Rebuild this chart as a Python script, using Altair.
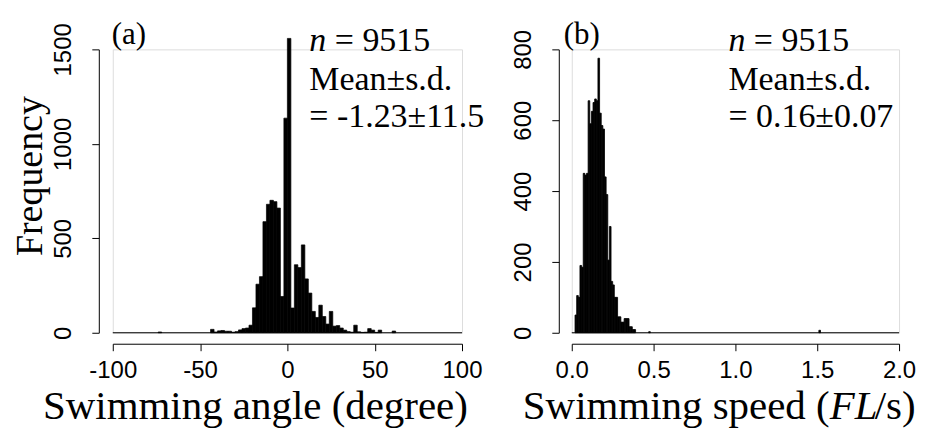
import altair as alt
import pandas as pd

# ---------------- data ----------------
# Panel (a): swimming angle, 2-degree bins (left edge, count)
angle_left = [-74, -44, -42, -40, -38, -36, -34, -32, -30, -28, -26, -24, -22,
              -20, -18, -16, -14, -12, -10, -8, -6, -4, -2, 0, 2, 4, 6, 8, 10,
              12, 14, 16, 18, 20, 22, 24, 26, 28, 30, 32, 34, 36, 38, 40, 42,
              44, 46, 48, 50, 52, 60]
angle_count = [4, 18, 4, 10, 12, 8, 8, 3, 6, 15, 22, 25, 40,
               132, 257, 297, 588, 680, 701, 694, 660, 192, 1136, 1558, 131, 360, 345, 465, 285,
               210, 113, 81, 146, 86, 46, 113, 35, 38, 25, 14, 6,
               3, 40, 5, 2, 3, 22, 14, 2, 14, 9]
angle_binw = 2

# Panel (b): swimming speed, 0.01 FL/s bins (left edge, count)
speed_left = [0.02, 0.03, 0.04, 0.05, 0.06, 0.07, 0.08, 0.09, 0.10, 0.11, 0.12,
              0.13, 0.14, 0.15, 0.16, 0.17, 0.18, 0.19, 0.20, 0.21, 0.22, 0.23,
              0.24, 0.25, 0.26, 0.27, 0.28, 0.29, 0.30, 0.31, 0.32, 0.33, 0.34,
              0.35, 0.36, 0.37, 0.38, 0.47, 1.51]
speed_count = [50, 105, 100, 190, 185, 450, 445, 450, 655, 590, 625,
               650, 660, 655, 775, 620, 585, 575, 440, 390, 205, 300,
               145, 135, 100, 100, 45, 45, 30, 30, 40, 40, 40,
               17, 17, 9, 9, 3, 7]
speed_binw = 0.01

angle_ticks = [-100, -50, 0, 50, 100]
angle_yticks = [0, 500, 1000, 1500]
speed_ticks = [0.0, 0.5, 1.0, 1.5, 2.0]
speed_yticks = [0, 200, 400, 600, 800]

SERIF = "Liberation Serif"
SANS = "Liberation Sans"
W, H = 350, 284
W2 = 328
TICKFS = 24
ANNFS = 34
TITLEFS = 41


def xaxis(values, fmt_expr):
    return alt.Axis(values=values, title=None, grid=False, offset=11,
                    domainColor="black", domainWidth=1, tickColor="black",
                    tickSize=7, tickWidth=1, labelFont=SANS, labelFontSize=TICKFS,
                    labelColor="black", labelPadding=8, labelFlush=False,
                    labelOverlap=False, labelExpr=fmt_expr)


def yaxis(values, offset):
    return alt.Axis(values=values, title=None, grid=False, offset=offset,
                    domainColor="black", domainWidth=1, tickColor="black",
                    tickSize=7, tickWidth=1, labelFont=SANS, labelFontSize=TICKFS,
                    labelColor="black", labelAngle=270, labelAlign="center",
                    labelBaseline="bottom", labelPadding=16, labelFlush=False,
                    labelOverlap=False, labelExpr="'' + datum.value")


def txt(s, x, y, size=ANNFS, style="normal", align="left", angle=0):
    kw = dict(font=SERIF, fontSize=size, fontStyle=style, align=align,
              baseline="middle", color="black")
    if angle:
        kw["angle"] = angle
    return alt.Chart(pd.DataFrame({"t": [s]})).mark_text(**kw).encode(
        x=alt.value(x), y=alt.value(y), text="t:N")


# ---------------- panel (a) ----------------
dfa = pd.DataFrame({"x0": angle_left, "c": angle_count})
dfa["x1"] = dfa["x0"] + angle_binw
dfa["z"] = 0
xa = alt.Scale(domain=[-100, 100], nice=False, zero=False)
ya = alt.Scale(domain=[0, 1500], nice=False)

bars_a = alt.Chart(dfa).mark_rect(color="black", stroke="black", strokeWidth=0.7).encode(
    x=alt.X("x0:Q", scale=xa, axis=xaxis(angle_ticks, "'' + datum.value")),
    x2="x1:Q",
    y=alt.Y("c:Q", scale=ya, axis=yaxis(angle_yticks, 14)),
    y2="z:Q",
)
base_a = alt.Chart(pd.DataFrame({"a": [-100], "b": [100], "z": [0]})).mark_rule(
    color="black", strokeWidth=1.2).encode(x=alt.X("a:Q", scale=xa), x2="b:Q",
                                           y=alt.Y("z:Q", scale=ya))
nx = 197
panel_a = alt.layer(
    bars_a, base_a,
    txt("(a)", -1, -14, size=31),
    txt("n", nx, -8, style="italic"),
    txt("= 9515", nx + 0.75 * ANNFS, -8),
    txt("Mean±s.d.", nx, 31),
    txt("= -1.23±11.5", nx, 68),
    txt("Frequency", -82, 127, size=38, align="center", angle=270),
    txt("Swimming angle (degree)", 143, 358, size=TITLEFS, align="center"),
).properties(width=W, height=H)

# ---------------- panel (b) ----------------
dfb = pd.DataFrame({"x0": speed_left, "c": speed_count})
dfb["x1"] = dfb["x0"] + speed_binw
dfb["z"] = 0
xb = alt.Scale(domain=[0, 2], nice=False, zero=False)
yb = alt.Scale(domain=[0, 800], nice=False)

bars_b = alt.Chart(dfb).mark_rect(color="black", stroke="black", strokeWidth=0.8).encode(
    x=alt.X("x0:Q", scale=xb, axis=xaxis(speed_ticks, "format(datum.value, '.1f')")),
    x2="x1:Q",
    y=alt.Y("c:Q", scale=yb, axis=yaxis(speed_yticks, 13)),
    y2="z:Q",
)
base_b = alt.Chart(pd.DataFrame({"a": [0], "b": [2], "z": [0]})).mark_rule(
    color="black", strokeWidth=1.2).encode(x=alt.X("a:Q", scale=xb), x2="b:Q",
                                           y=alt.Y("z:Q", scale=yb))
mx = 157
tx = -49
panel_b = alt.layer(
    bars_b, base_b,
    txt("(b)", -8, -14, size=31),
    txt("n", mx, -8, style="italic"),
    txt("= 9515", mx + 0.75 * ANNFS, -8),
    txt("Mean±s.d.", mx, 31),
    txt("= 0.16±0.07", mx, 68),
    txt("Swimming speed (", tx, 358, size=TITLEFS),
    txt("FL", tx + 7.5 * TITLEFS, 358, size=TITLEFS, style="italic"),
    txt("/s)", tx + 8.6 * TITLEFS, 358, size=TITLEFS),
).properties(width=W2, height=H)

chart = alt.hconcat(panel_a, panel_b, spacing=26).properties(
    padding={"left": 3, "top": 10, "right": 5, "bottom": 5}
).configure_view(stroke=None).configure(background="white")

chart.save("out.html", embed_options={"renderer": "svg", "actions": False})
